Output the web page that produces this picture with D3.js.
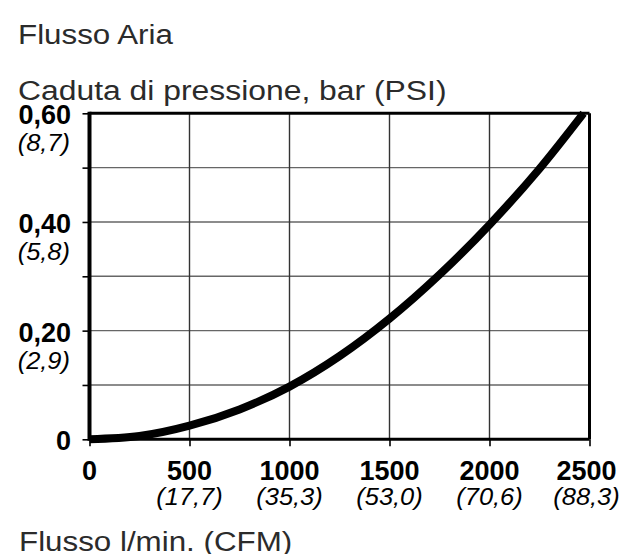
<!DOCTYPE html>
<html>
<head>
<meta charset="utf-8">
<script src="https://cdn.jsdelivr.net/npm/d3@7"></script>
<style>
  html, body { margin: 0; padding: 0; background: #fff; }
  svg { display: block; }
  text { font-family: "Liberation Sans", Arial, sans-serif; }
</style>
</head>
<body>
<div id="chart"></div>
<script>
// flow l/min vs pressure drop bar
const flow = [0, 250, 500, 750, 1000, 1250, 1500, 1750, 2000, 2250, 2470];
const drop = [0, 0.006, 0.025, 0.055, 0.097, 0.153, 0.222, 0.303, 0.395, 0.498, 0.6];

const xTicks = [0, 500, 1000, 1500, 2000, 2500];
const xTicksCfm = ["", "(17,7)", "(35,3)", "(53,0)", "(70,6)", "(88,3)"];
const yTicks = [0, 0.1, 0.2, 0.3, 0.4, 0.5, 0.6];
const yLabels = { 0: "0", 0.2: "0,20", 0.4: "0,40", 0.6: "0,60" };
const yLabelsPsi = { 0.2: "(2,9)", 0.4: "(5,8)", 0.6: "(8,7)" };

const width = 624, height = 554;
const margin = { left: 89.5, right: 34.5, top: 113.3, bottom: 114.7 };

const svg = d3.select("#chart").append("svg")
    .attr("width", width)
    .attr("height", height);

const x = d3.scaleLinear().domain([0, 2500]).range([margin.left, width - margin.right]);
const y = d3.scaleLinear().domain([0, 0.6]).range([height - margin.bottom, margin.top]);

// stretch titles a bit, the source font is wider than Arial
function stretch(sel, k) {
    sel.each(function () {
        const w = this.getComputedTextLength();
        d3.select(this).attr("textLength", w * k).attr("lengthAdjust", "spacingAndGlyphs");
    });
}

svg.append("text").attr("x", 18).attr("y", 43.5)
    .style("font-size", "27px").style("fill", "#2b2b2b")
    .text("Flusso Aria").call(stretch, 1.16);

svg.append("text").attr("x", 18).attr("y", 100)
    .style("font-size", "27px").style("fill", "#2b2b2b")
    .text("Caduta di pressione, bar (PSI)").call(stretch, 1.18);

svg.append("text").attr("x", 19).attr("y", 551)
    .style("font-size", "27px").style("fill", "#2b2b2b")
    .text("Flusso l/min. (CFM)").call(stretch, 1.16);

// grid
svg.append("g").selectAll("line.h")
    .data(yTicks.slice(1, -1))
    .join("line")
    .attr("x1", x(0)).attr("x2", x(2500))
    .attr("y1", d => y(d)).attr("y2", d => y(d))
    .attr("stroke", "#666").attr("stroke-width", 1.4);

svg.append("g").selectAll("line.v")
    .data(xTicks.slice(1, -1))
    .join("line")
    .attr("x1", d => x(d)).attr("x2", d => x(d))
    .attr("y1", y(0)).attr("y2", y(0.6))
    .attr("stroke", "#333").attr("stroke-width", 1.4);

// axes with ticks only, labels drawn separately
const yAxis = svg.append("g")
    .attr("transform", `translate(${x(0)},0)`)
    .call(d3.axisLeft(y).tickValues(yTicks).tickSize(7).tickFormat(""));
yAxis.select(".domain").remove();
yAxis.selectAll("line").attr("stroke", "#000").attr("stroke-width", 1.6);

const xAxis = svg.append("g")
    .attr("transform", `translate(0,${y(0)})`)
    .call(d3.axisBottom(x).tickValues(xTicks).tickSize(7).tickFormat(""));
xAxis.select(".domain").remove();
xAxis.selectAll("line").attr("stroke", "#000").attr("stroke-width", 1.6);

// frame
svg.append("line").attr("x1", x(0)).attr("x2", x(2500)).attr("y1", y(0.6)).attr("y2", y(0.6))
    .attr("stroke", "#000").attr("stroke-width", 3);
svg.append("line").attr("x1", x(2500)).attr("x2", x(2500)).attr("y1", y(0.6)).attr("y2", y(0))
    .attr("stroke", "#000").attr("stroke-width", 3);
svg.append("line").attr("x1", x(0)).attr("x2", x(2500)).attr("y1", y(0)).attr("y2", y(0))
    .attr("stroke", "#000").attr("stroke-width", 3);
svg.append("line").attr("x1", x(0)).attr("x2", x(0)).attr("y1", y(0.6) - 1.5).attr("y2", y(0) + 1.5)
    .attr("stroke", "#000").attr("stroke-width", 4);

// y labels
svg.append("g").selectAll("text")
    .data(yTicks.filter(d => yLabels[d] !== undefined))
    .join("text")
    .attr("x", 71)
    .attr("y", d => y(d) + (d === 0 ? 10.5 : 11))
    .attr("text-anchor", "end")
    .style("font-size", "27px").style("font-weight", "bold")
    .text(d => yLabels[d]);

svg.append("g").selectAll("text")
    .data(yTicks.filter(d => yLabelsPsi[d] !== undefined))
    .join("text")
    .attr("x", 70)
    .attr("y", d => y(d) + 38)
    .attr("text-anchor", "end")
    .style("font-size", "24px").style("font-style", "italic")
    .text(d => yLabelsPsi[d]).call(stretch, 1.06);

// x labels
svg.append("g").selectAll("text")
    .data(xTicks)
    .join("text")
    .attr("x", (d, i) => x(d) - (i === xTicks.length - 1 ? 3 : 0))
    .attr("y", 480)
    .attr("text-anchor", "middle")
    .style("font-size", "27px").style("font-weight", "bold")
    .text(d => d);

svg.append("g").selectAll("text")
    .data(xTicks)
    .join("text")
    .attr("x", (d, i) => x(d) - (i === xTicks.length - 1 ? 3 : 0))
    .attr("y", 505)
    .attr("text-anchor", "middle")
    .style("font-size", "24px").style("font-style", "italic")
    .text((d, i) => xTicksCfm[i]).call(stretch, 1.06);

// curve
const line = d3.line()
    .x(d => x(d[0]))
    .y(d => y(d[1]))
    .curve(d3.curveMonotoneX);

svg.append("path")
    .datum(flow.map((f, i) => [f, drop[i]]))
    .attr("d", line)
    .attr("fill", "none")
    .attr("stroke", "#000")
    .attr("stroke-width", 8);
</script>
</body>
</html>
